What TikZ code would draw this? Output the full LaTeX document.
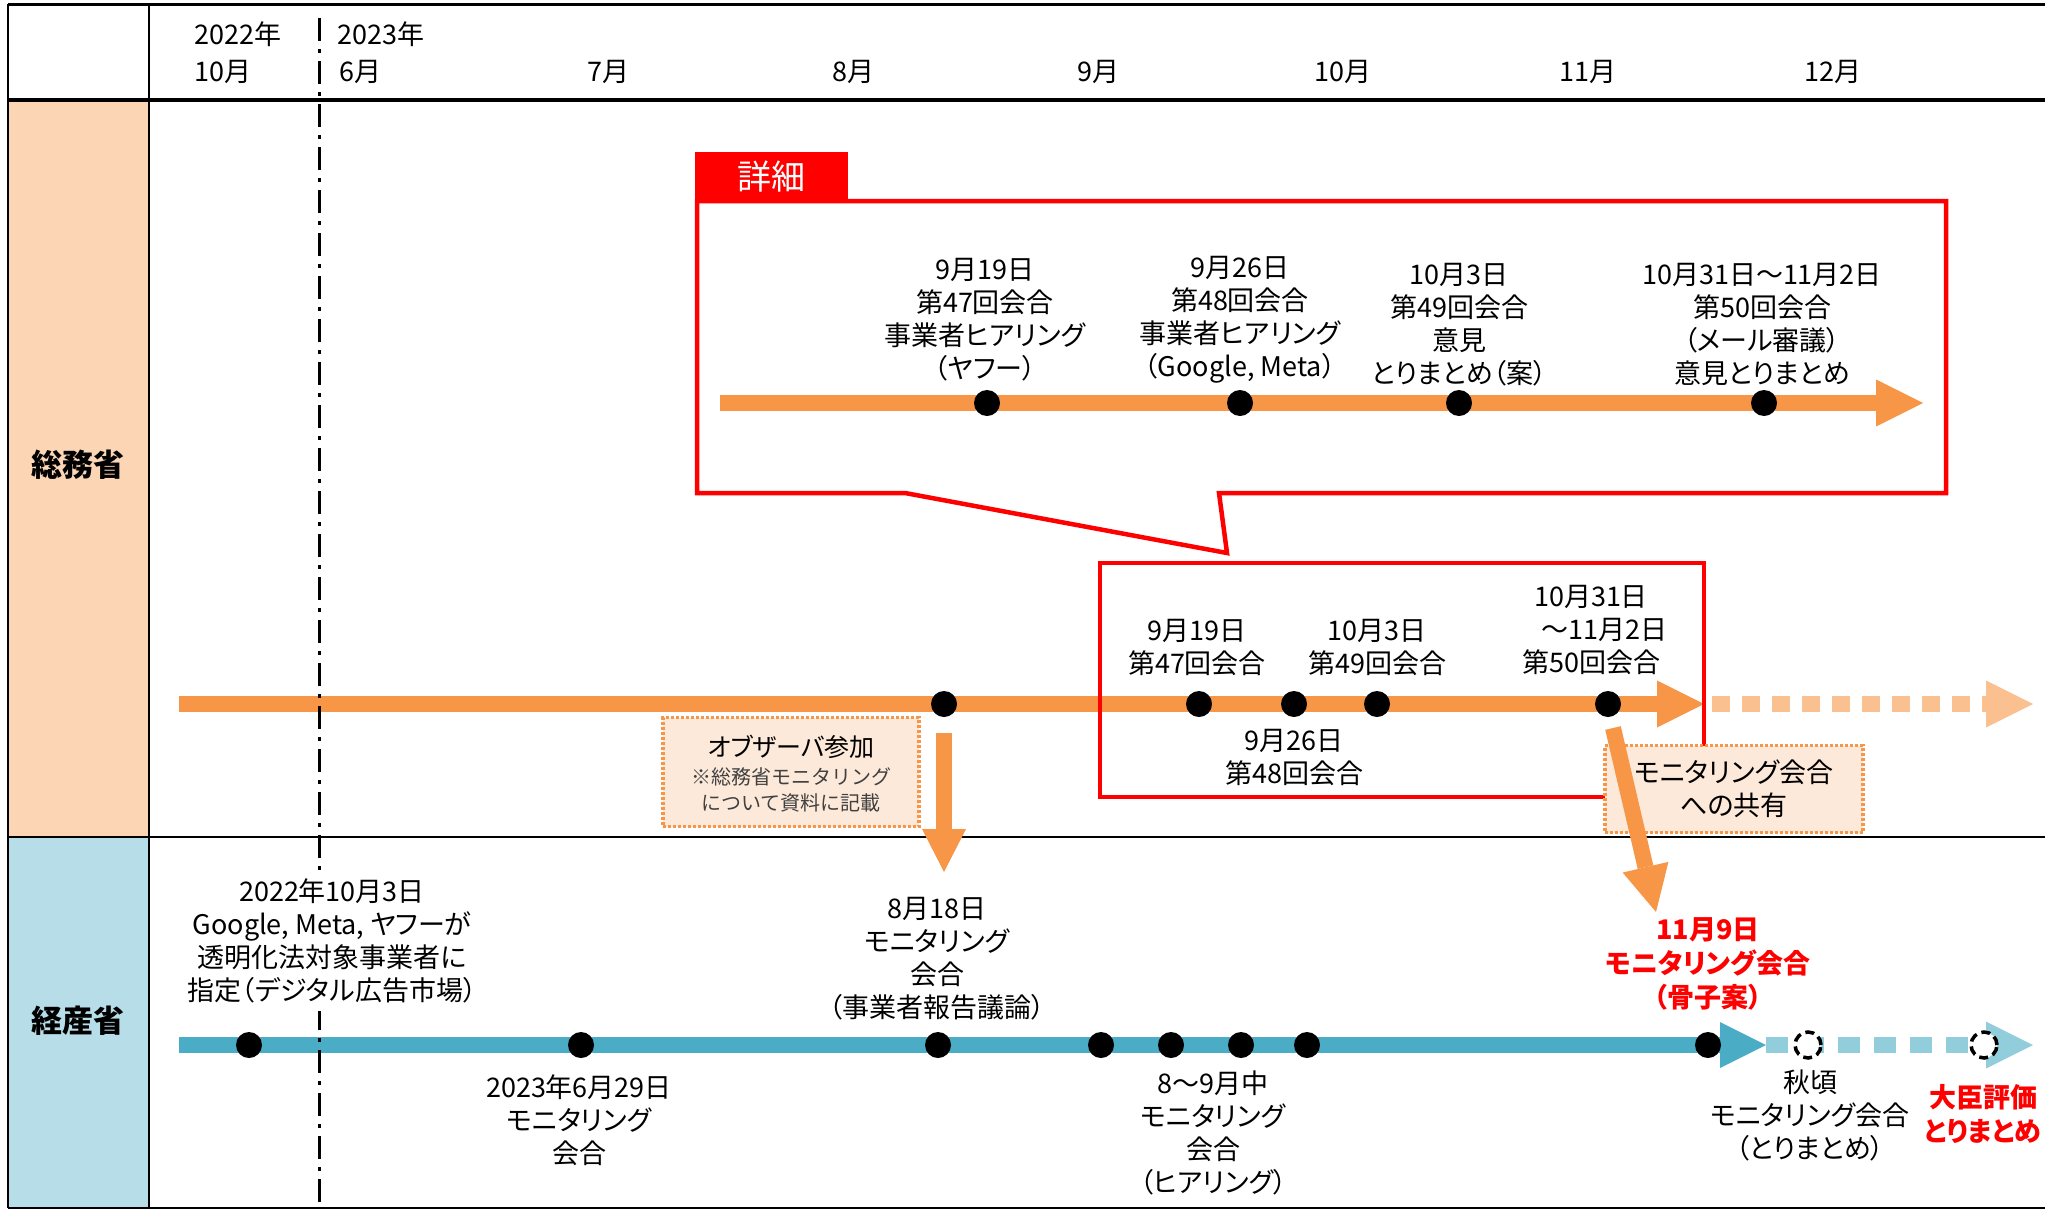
\documentclass[tikz,border=0pt]{standalone}
\usepackage{fontspec}
\setmainfont[RawFeature=+palt]{Noto Sans CJK JP}
\newfontfamily\notefont{Noto Sans CJK JP}
\usetikzlibrary{arrows.meta}
\definecolor{ornge}{HTML}{F79646}
\definecolor{lorange}{HTML}{FAC090}
\definecolor{peach}{HTML}{FCD5B5}
\definecolor{lpeach}{HTML}{FDE9D9}
\definecolor{mblue}{HTML}{4BACC6}
\definecolor{lblue}{HTML}{92CDDC}
\definecolor{pblue}{HTML}{B7DEE8}

\begin{document}
\begin{tikzpicture}[x=1pt,y=-1pt,
  txt/.style={font=\fontsize{27}{33}\selectfont,align=center,inner sep=0pt},
  redtxt/.style={txt,text=red,font=\fontsize{27}{34}\selectfont\bfseries},
  dot/.style={circle,fill=black,inner sep=0pt,minimum size=26pt},
  odot/.style={circle,draw=black,fill=white,line width=3.5pt,dash pattern=on 9pt off 5pt,inner sep=0pt,minimum size=26pt},
  bar/.style={line width=16pt,-{Triangle[length=47pt,width=47pt,line width=0pt]}},
  note/.style={draw=ornge,fill=lpeach,line width=3.5pt,dash pattern=on 3pt off 2pt,inner sep=0pt}]
\useasboundingbox (0,0) rectangle (2045,1210);
\fill[peach] (8,100) rectangle (149,837);
\fill[pblue] (8,837) rectangle (149,1208);
\draw[line width=3pt] (8,4) -- (2045,4);
\draw[line width=3.5pt] (8,100) -- (2045,100);
\draw[line width=2.5pt] (8,837) -- (2045,837);
\draw[line width=2.5pt] (8,1208) -- (2045,1208);
\draw[line width=2.5pt] (8,4) -- (8,1208);
\draw[line width=2.5pt] (149,4) -- (149,1208);
\node[font=\fontsize{31}{36}\selectfont\bfseries] (som) at (78,465) {総務省};
\node[font=\fontsize{31}{36}\selectfont\bfseries] (met) at (78,1021) {経産省};
\node[txt,anchor=west] (y2022) at (194,34) {2022年};
\node[txt,anchor=west] (mon22) at (194,72) {10月};
\node[txt,anchor=west] (y2023) at (337,34) {2023年};
\node[txt,anchor=west] (mon6) at (339,72) {6月};
\foreach \m/\x in {7/608,8/853,9/1098,10/1343,11/1588,12/1833}
  \node[txt] (mon\m) at (\x,72) {{\m}月};

\node[fill=red,text=white,font=\fontsize{34}{40}\selectfont,minimum width=153pt,minimum height=50pt,inner sep=0pt] (tab) at (771.5,177) {詳細};
\draw[red,line width=4.5pt] (697,201) -- (1946,201) -- (1946,493) -- (1219,493) -- (1227,553) -- (905,493) -- (697,493) -- cycle;
\draw[bar,ornge] (720,403) -- (1923,403);
\node[txt] (c1) at (985,320) {9月19日\\第47回会合\\事業者ヒアリング\\（ヤフー）};
\node[txt] (c2) at (1240,320) {9月26日\\第48回会合\\事業者ヒアリング\\（Google, Meta）};
\node[txt] (c3) at (1459,325) {10月3日\\第49回会合\\意見\\とりまとめ（案）};
\node[txt] (c4) at (1762,324) {10月31日～11月2日\\第50回会合\\（メール審議）\\意見とりまとめ};
\foreach \x [count=\i] in {987,1240,1459,1764}
  \node[dot] (cd\i) at (\x,403) {};

\draw[bar,ornge] (179,704) -- (1704,704);
\draw[bar,lorange,dash pattern=on 18pt off 12pt] (1712,704) -- (2033,704);
\draw[bar,mblue,-{Triangle[length=46pt,width=46pt,line width=0pt]}] (179,1045) -- (1766,1045);
\draw[bar,lblue,dash pattern=on 22pt off 14pt] (1766,1045) -- (2033,1045);
\draw[line width=3pt,dash pattern=on 23pt off 8pt on 4pt off 8pt] (319,18) -- (319,1208);

\draw[red,line width=4.5pt] (1100,563) rectangle (1704,797);
\node[txt] (s1) at (1197,647) {9月19日\\第47回会合};
\node[txt] (s3) at (1377,647) {10月3日\\第49回会合};
\node[txt] (s4) at (1591,630) {10月31日\\　～11月2日\\第50回会合};
\node[txt] (s2) at (1294,757) {9月26日\\第48回会合};
\foreach \x [count=\i] in {944,1199,1294,1377,1608}
  \node[dot] (sd\i) at (\x,704) {};

\node[note,minimum width=256pt,minimum height=109pt] (obs) at (791,772) {};
\node[txt,font=\fontsize{25}{30}\selectfont] (obs1) at (791,747) {オブザーバ参加};
\node[txt,font=\notefont\fontsize{20}{26}\selectfont,text=black!75] (obs2) at (791,790) {※総務省モニタリング\\について資料に記載};
\coordinate (obsA) at (944,733);
\coordinate (obsB) at (944,872);
\draw[bar,ornge,-{Triangle[length=43pt,width=44pt,line width=0pt]}] (obsA) -- (obsB);

\node[note,txt,minimum width=258pt,minimum height=87pt] (share) at (1734,789) {モニタリング会合\\への共有};
\coordinate (shA) at (1613,728);
\coordinate (shB) at (1656,912);
\draw[bar,ornge,-{Triangle[length=46pt,width=47pt,line width=0pt]}] (shA) -- (shB);

\node[txt,fill=white,inner sep=8pt] (k1) at (332,941) {2022年10月3日\\Google, Meta, ヤフーが\\透明化法対象事業者に\\指定（デジタル広告市場）};
\node[txt] (k2) at (579,1120) {2023年6月29日\\モニタリング\\会合};
\node[txt] (k3) at (937,959) {8月18日\\モニタリング\\会合\\（事業者報告議論）};
\node[txt] (k4) at (1213,1133) {8{\notefont ～}9月中\\モニタリング\\会合\\（ヒアリング）};
\node[redtxt] (k5) at (1708,964) {11月9日\\モニタリング会合\\（骨子案）};
\node[txt] (k6) at (1810,1115) {秋頃\\モニタリング会合\\（とりまとめ）};
\node[redtxt] (k7) at (1983,1114) {大臣評価\\とりまとめ};
\foreach \x [count=\i] in {249,581,938,1101,1171,1241,1307,1708}
  \node[dot] (kd\i) at (\x,1045) {};
\node[odot] (ko1) at (1808,1045) {};
\node[odot] (ko2) at (1984,1045) {};
\end{tikzpicture}
\end{document}
